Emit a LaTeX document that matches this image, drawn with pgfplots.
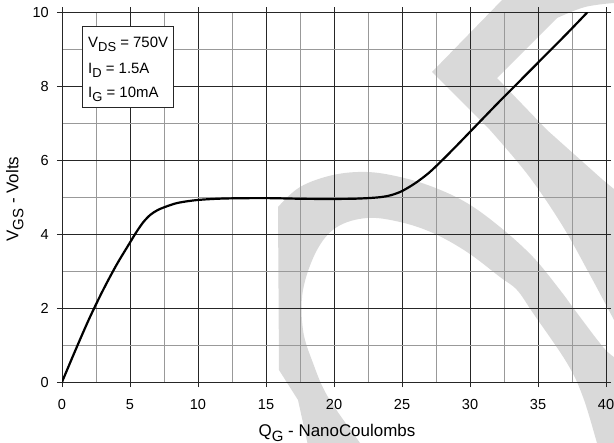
\documentclass[border=0pt]{standalone}
\usepackage{pgfplots}
\pgfplotsset{compat=1.18}
\usepackage{fontspec}
\setmainfont{Liberation Sans}
\definecolor{wm}{RGB}{217,217,217}
\newcommand{\sub}[2]{\raisebox{-0.3em}{\fontsize{#1}{#1}\selectfont #2}}

\begin{document}
\begin{tikzpicture}
\path[use as bounding box] (0,0) rectangle (614bp,-443bp);
% watermark
\begin{scope}[x=1bp,y=-1bp]
\fill[wm] (309,450) -- (298,400) -- (279,370) -- (278,207)
  -- plot[smooth, tension=0.6] coordinates {(278,207) (300,187) (333,175) (367,172) (400,177) (433,187) (467,203) (500,227) (533,257) (560,290) (577,313) (603,347) (614,357)}
  -- (620,357) -- (620,450) -- (600,450)
  -- plot[smooth, tension=0.6] coordinates {(599,450) (597,443) (583,397) (567,363) (533,313) (517,290) (500,277) (467,252) (433,233) (400,222) (367,218) (337,227) (317,250) (303,290) (303,330) (313,363) (328,397) (360,443) (365,450)}
  -- cycle;
\fill[wm] (432,72) -- (504,-2) -- (620,-2) -- (620,3)
  -- plot[smooth, tension=0.6] coordinates {(614,3) (585,7) (557,18)}
  -- (497,78) -- (547,130) -- (603,180) -- (620,194) -- (620,322)
  -- plot[smooth, tension=0.6] coordinates {(614,320) (590,275) (562,225) (528,175) (490,130)}
  -- cycle;
\end{scope}
\begin{axis}[
  at={(62bp,-382bp)}, anchor=south west,
  scale only axis, width=544bp, height=370bp,
  xmin=0, xmax=40, ymin=0, ymax=10,
  xtick={0,5,...,40}, ytick={0,2,...,10},
  minor xtick={2.5,7.5,...,37.5}, minor ytick={1,3,5,7,9},
  grid=both,
  major grid style={draw=black!85, line width=0.7bp},
  minor grid style={draw=black!40, line width=0.7bp},
  tick align=outside, major tick length=5bp, minor tick length=0bp,
  tick style={draw=black!85, line width=0.7bp},
  axis line style={draw=black!85, line width=0.8bp},
  tick label style={font=\fontsize{14.6}{16}\selectfont},
  /pgf/number format/assume math mode=true,
  xticklabel style={anchor=north, inner sep=0pt, yshift=-12bp},
  yticklabel style={anchor=east, inner sep=0pt, xshift=-8bp},
]
\addplot[black, line width=2.2bp, smooth, tension=0.5] coordinates {
(0,0) (1,0.87) (2,1.71) (3,2.47) (4,3.16) (5,3.77) (5.5,4.07) (6,4.33) (6.5,4.52) (7,4.64) (7.5,4.72) (8.5,4.84) (10,4.92) (12,4.96) (15,4.97) (18,4.95) (21,4.95) (22.5,4.97) (23.5,5.0) (24.2,5.05) (25,5.16) (26,5.38) (27,5.66) (28,6.01) (29,6.38) (30,6.76) (31,7.14) (32,7.52) (33,7.89) (34,8.26) (35,8.63) (36,9.0) (37,9.37) (38,9.75) (38.65,10)
};
\end{axis}
\begin{scope}[x=1bp,y=-1bp]
\draw[black!85, line width=0.8bp, fill=white] (82,26) rectangle (173,107);
\node[anchor=base west, inner sep=0pt, font=\fontsize{15}{17}\selectfont] at (88,47) {V\sub{13}{DS} = 750V};
\node[anchor=base west, inner sep=0pt, font=\fontsize{15}{17}\selectfont] at (88,73) {I\sub{13}{D} = 1.5A};
\node[anchor=base west, inner sep=0pt, font=\fontsize{15}{17}\selectfont] at (88,97) {I\sub{13}{G} = 10mA};
\node[anchor=base, inner sep=0pt, font=\fontsize{17}{19}\selectfont] at (337,436) {Q\sub{15}{G} - NanoCoulombs};
\node[anchor=base, inner sep=0pt, rotate=90, font=\fontsize{17}{19}\selectfont] at (18.3,199) {V\sub{15}{GS} - Volts};
\end{scope}
\end{tikzpicture}
\end{document}
